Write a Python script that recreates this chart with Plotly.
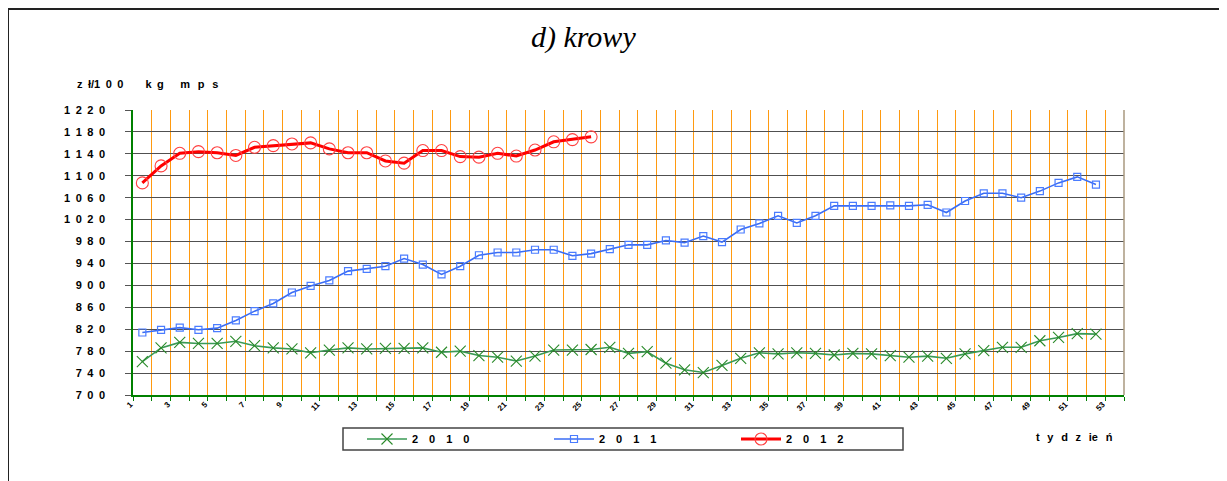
import plotly.graph_objects as go

weeks_2010 = list(range(1, 53))
values_2010 = [761, 786, 796, 794, 794, 798, 790, 786, 784, 777, 782, 786, 784, 785, 785, 786,
               778, 780, 772, 769, 762, 771, 782, 782, 783, 787, 776, 779, 758, 746, 741, 754,
               767, 777, 775, 777, 776, 773, 776, 775, 772, 769, 771, 767, 775, 781, 787, 787,
               799, 805, 812, 811]

weeks_2011 = list(range(1, 53))
values_2011 = [814, 819, 823, 819, 822, 836, 853, 867, 887, 899, 909, 926, 930, 935, 949, 938,
               920, 935, 955, 960, 960, 965, 965, 954, 958, 966, 974, 974, 982, 978, 990, 979,
               1002, 1013, 1027, 1014, 1027, 1045, 1045, 1045, 1046, 1045, 1047, 1033, 1054, 1068,
               1068, 1060, 1072, 1087, 1098, 1084]

weeks_2012 = list(range(1, 26))
values_2012 = [1087, 1118, 1141, 1144, 1142, 1137, 1152, 1155, 1158, 1160, 1149, 1142, 1142,
               1127, 1123, 1146, 1146, 1135, 1134, 1141, 1136, 1147, 1162, 1166, 1171]

series_names = ["2010", "2011", "2012"]

EN = "\u2002"
EM = "\u2003"
TH = "\u2009"

legend_labels = [EM.join(s) for s in series_names]

y_tick_values = list(range(700, 1221, 40))
y_tick_labels = [EN.join(str(v)) for v in y_tick_values]
x_tick_values = list(range(1, 54, 2))
x_tick_labels = [str(v) for v in x_tick_values]

title_text = "d) krowy"
y_title = ("z" + EN + "ł/1" + EN + "0" + EN + "0" + EM + EM + "k" + EN + "g" + EM + EN
           + "m" + EN + TH + "p" + EN + TH + "s")
x_title = (EN + TH).join(["t", "y", "d", "z", "ie", "ń"])

FONT = "Arial, Liberation Sans, sans-serif"

# page body has an 8px margin; the figure is sized so that it ends at the window edge
OFF = 8
W, H = 1227 - OFF, 481 - OFF
PL, PR, PT, PB = 133, 1124, 110, 395  # plot area in window pixels
PW, PH = PR - PL, PB - PT


def px_x(x):
    return (x - PL) / PW


def px_y(y):
    return (PB - y) / PH


fig = go.Figure()
fig.add_trace(go.Scatter(
    x=weeks_2010, y=values_2010, name=legend_labels[0], mode="lines+markers",
    line=dict(color="#3a9a55", width=1.6),
    marker=dict(symbol="x-thin-open", size=11, line=dict(color="#2a8a2a", width=1.1), color="#2a8a2a"),
))
fig.add_trace(go.Scatter(
    x=weeks_2011, y=values_2011, name=legend_labels[1], mode="lines+markers",
    line=dict(color="#3a6cf4", width=1.6),
    marker=dict(symbol="square-open", size=7, line=dict(color="#4a7cff", width=1.2), color="#4a7cff"),
))
fig.add_trace(go.Scatter(
    x=weeks_2012, y=values_2012, name=legend_labels[2], mode="lines+markers",
    line=dict(color="#ff0000", width=3),
    marker=dict(symbol="circle-open", size=12, line=dict(color="#ff4040", width=1.1), color="#ff4040"),
))

fig.update_layout(
    width=W, height=H,
    margin=dict(l=PL - OFF, r=1227 - PR, t=PT - OFF, b=481 - PB),
    paper_bgcolor="white", plot_bgcolor="white",
    font=dict(family=FONT, color="black"),
    showlegend=True,
    legend=dict(
        orientation="h", x=px_x(362), y=px_y(439), xanchor="left", yanchor="middle",
        borderwidth=0, bgcolor="rgba(0,0,0,0)",
        font=dict(family=FONT, size=11, color="black", weight="bold"),
        entrywidth=132, entrywidthmode="pixels", itemwidth=40,
        tracegroupgap=0,
    ),
    xaxis=dict(
        range=[0.5, 53.5], tickmode="array", tickvals=x_tick_values, ticktext=x_tick_labels,
        tickangle=-45, ticks="", showgrid=False, zeroline=False,
        tickfont=dict(family=FONT, size=8, color="black", weight="bold"),
        ticklabelshift=-12,
        showline=True, linecolor="#008000", linewidth=1.5,
        minor=dict(tick0=0.5, dtick=1, showgrid=True, gridcolor="#ff9a10", gridwidth=1,
                   ticks="outside", ticklen=4, tickcolor="#008000", tickwidth=1),
    ),
    yaxis=dict(
        range=[700, 1220], tickmode="array", tickvals=y_tick_values, ticktext=y_tick_labels,
        showgrid=True, gridcolor="#505050", gridwidth=1, zeroline=False,
        ticks="outside", ticklen=6, tickcolor="#555555",
        ticklabelstandoff=18,
        tickfont=dict(family=FONT, size=11, color="black", weight="bold"),
        showline=True, linecolor="#008000", linewidth=1.5,
    ),
    annotations=[
        dict(text=title_text, xref="paper", yref="paper", x=px_x(583), y=px_y(37),
             xanchor="center", yanchor="middle", showarrow=False,
             font=dict(family="Liberation Serif, Times New Roman, serif", size=30, style="italic", color="black")),
        dict(text=y_title, xref="paper", yref="paper", x=px_x(75), y=px_y(84),
             xanchor="left", yanchor="middle", showarrow=False,
             font=dict(family=FONT, size=11, color="black", weight="bold")),
        dict(text=x_title, xref="paper", yref="paper", x=px_x(1034), y=px_y(437),
             xanchor="left", yanchor="middle", showarrow=False,
             font=dict(family=FONT, size=11, color="black", weight="bold")),
    ],
    shapes=[
        dict(type="line", xref="paper", yref="paper", x0=1, x1=1, y0=0, y1=1,
             line=dict(color="#a8987f", width=1.5)),
        dict(type="rect", xref="paper", yref="paper",
             x0=px_x(343), x1=px_x(903), y0=px_y(450), y1=px_y(428),
             line=dict(color="#444444", width=1.5), layer="below"),
        dict(type="rect", xref="paper", yref="paper",
             x0=px_x(8), x1=px_x(1240), y0=px_y(500), y1=px_y(9),
             line=dict(color="#222222", width=2), layer="above"),
    ],
)

fig.write_html("out.html")
